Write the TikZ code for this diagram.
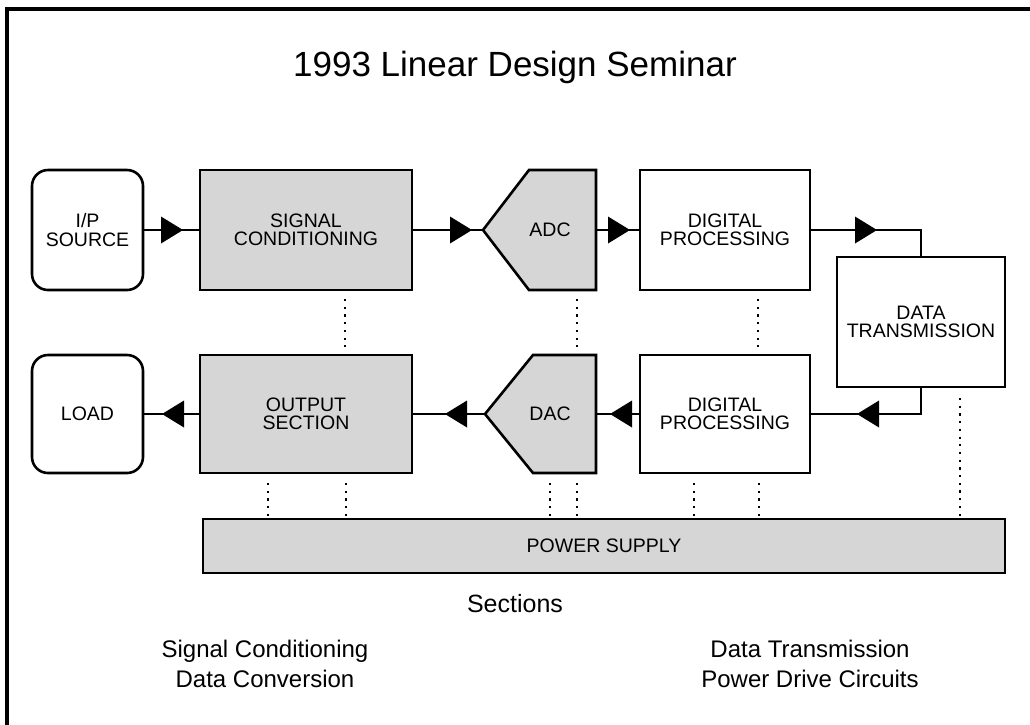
\documentclass[tikz,border=0pt]{standalone}
\usepackage{fontspec}
\setmainfont{Liberation Sans}
\usetikzlibrary{decorations.markings,calc}
\definecolor{shade}{gray}{0.84}
\newcommand\boxfont{\fontsize{19.5}{18.5}\selectfont}
\begin{document}
\begin{tikzpicture}[x=1pt,y=-1pt,
  box/.style={draw, line width=2.6pt, align=center, font=\boxfont, inner sep=0pt, outer sep=0pt},
  rbox/.style={box, rounded corners=16pt},
  gbox/.style={box, fill=shade},
  gshape/.style={draw, fill=shade, line width=2.6pt, line join=miter},
  wire/.style={line width=2pt},
  dots/.style={line width=2.2pt, dash pattern=on 2.2pt off 5.5pt},
  arr/.style={postaction={decorate}, decoration={markings, mark=at position #1 with {\fill (0pt,0pt) -- (-22pt,13.5pt) -- (-22pt,-13.5pt) -- cycle;}}},
  txt/.style={font=\fontsize{24}{30}\selectfont, align=center, inner sep=0pt}
]
\useasboundingbox (0,0) rectangle (1030,724);
\fill[white] (0,0) rectangle (1030,724);
\draw[line width=3.2pt] (7,730) -- (7,9) -- (1036,9);

% title
\node[font=\fontsize{35}{40}\selectfont, anchor=base, inner sep=0pt] (title) at (515,76) {1993 Linear Design Seminar};

% top row
\node[rbox, minimum width=111pt, minimum height=120pt] (ip) at (87.5,230) {I/P\\SOURCE};
\node[gbox, minimum width=212pt, minimum height=120pt] (sc) at (306,230) {SIGNAL\\CONDITIONING};
\node[minimum width=67pt, minimum height=120pt, inner sep=0pt, outer sep=0pt] (adc) at (562.5,230) {};
\coordinate (adctip) at ($(adc.west)+(-46,0)$);
\filldraw[gshape] (adctip) -- (adc.north west) -- (adc.north east) -- (adc.south east) -- (adc.south west) -- cycle;
\node[font=\boxfont, inner sep=0pt] (adct) at (550,230) {ADC};
\node[box, minimum width=170pt, minimum height=120pt] (dp1) at (725,230) {DIGITAL\\PROCESSING};
\node[box, minimum width=168pt, minimum height=130pt] (dt) at (921,322) {DATA\\TRANSMISSION};

% bottom row
\node[rbox, minimum width=111pt, minimum height=118pt] (load) at (87.5,414) {LOAD};
\node[gbox, minimum width=212pt, minimum height=118pt] (os) at (306,414) {OUTPUT\\SECTION};
\node[minimum width=63pt, minimum height=118pt, inner sep=0pt, outer sep=0pt] (dac) at (564.5,414) {};
\coordinate (dactip) at ($(dac.west)+(-48,0)$);
\filldraw[gshape] (dactip) -- (dac.north west) -- (dac.north east) -- (dac.south east) -- (dac.south west) -- cycle;
\node[font=\boxfont, inner sep=0pt] (dact) at (550,414) {DAC};
\node[box, minimum width=170pt, minimum height=118pt] (dp2) at (725,414) {DIGITAL\\PROCESSING};

% power supply
\node[gbox, minimum width=802pt, minimum height=54pt] (ps) at (604,546) {POWER SUPPLY};

% connectors
\draw[wire, arr=40pt] (ip.east) -- (sc.west);
\draw[wire, arr=60pt] (sc.east) -- (adctip);
\draw[wire, arr=34pt] (adc.east) -- (dp1.west);
\draw[wire, arr=67pt] (dp1.east) -| (dt.north);
\draw[wire, arr=91pt] (dt.south) |- (dp2.east);
\draw[wire, arr=30pt] (dp2.west) -- (dac.east);
\draw[wire, arr=40pt] (dactip) -- (os.east);
\draw[wire, arr=38pt] (os.west) -- (load.east);

% dotted links
\draw[dots, shorten <=9pt, shorten >=4pt] ([xshift=39pt]sc.south) -- ([xshift=39pt]os.north);
\draw[dots, shorten <=9pt, shorten >=4pt] ([xshift=14.5pt]adc.south) -- ([xshift=12.5pt]dac.north);
\draw[dots, shorten <=9pt, shorten >=4pt] ([xshift=33pt]dp1.south) -- ([xshift=33pt]dp2.north);
\draw[dots, shorten <=10pt] ([xshift=-38pt]os.south) -- ([xshift=-38pt]os.south |- ps.north);
\draw[dots, shorten <=10pt] ([xshift=40pt]os.south) -- ([xshift=40pt]os.south |- ps.north);
\draw[dots, shorten <=10pt] ([xshift=-14.5pt]dac.south) -- ([xshift=-14.5pt]dac.south |- ps.north);
\draw[dots, shorten <=10pt] ([xshift=12.5pt]dac.south) -- ([xshift=12.5pt]dac.south |- ps.north);
\draw[dots, shorten <=10pt] ([xshift=-31pt]dp2.south) -- ([xshift=-31pt]dp2.south |- ps.north);
\draw[dots, shorten <=10pt] ([xshift=34pt]dp2.south) -- ([xshift=34pt]dp2.south |- ps.north);
\draw[dots, shorten <=11pt] ([xshift=39pt]dt.south) -- ([xshift=39pt]dt.south |- ps.north);

% captions
\node[txt, font=\fontsize{25}{30}\selectfont, anchor=base] (sect) at (515,612) {Sections};
\node[txt, anchor=base] (l1) at (265,657) {Signal Conditioning};
\node[txt, anchor=base] (l2) at (265,687) {Data Conversion};
\node[txt, anchor=base] (r1) at (810,657) {Data Transmission};
\node[txt, anchor=base] (r2) at (810,687) {Power Drive Circuits};
\end{tikzpicture}
\end{document}
